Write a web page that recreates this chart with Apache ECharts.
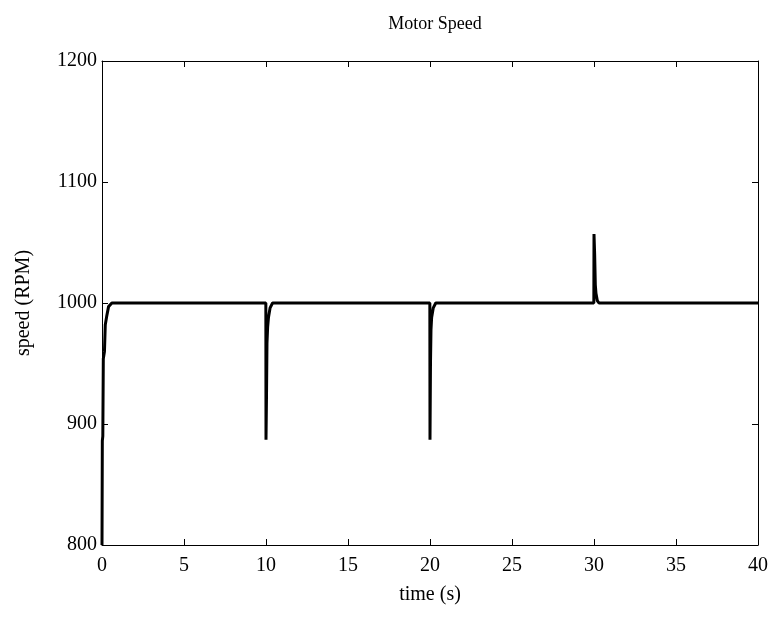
<!DOCTYPE html>
<html><head><meta charset="utf-8">
<script src="https://cdn.jsdelivr.net/npm/echarts@6/dist/echarts.min.js"></script>
<style>html,body{margin:0;padding:0;background:#fff}#c{width:773px;height:618px}</style>
</head><body><div id="c"></div>
<script>
var title = 'Motor Speed';
var xName = 'time (s)';
var yName = 'speed (RPM)';
var xTicks = [0, 5, 10, 15, 20, 25, 30, 35, 40];
var yTicks = [800, 900, 1000, 1100, 1200];
var time  = [0, 0.02, 0.05, 0.08, 0.15, 0.2, 0.3, 0.4, 0.6,
             9.99, 10.0, 10.03, 10.06, 10.1, 10.15, 10.25, 10.4,
             19.99, 20.0, 20.03, 20.06, 20.1, 20.2, 20.35,
             29.99, 30.0, 30.04, 30.08, 30.12, 30.2, 30.3, 40];
var speed = [800, 886, 890, 954, 960, 982, 990, 997, 1000,
             1000, 887, 922, 967, 980, 988, 996, 1000,
             1000, 887, 950, 978, 988, 996, 1000,
             1000, 1057, 1040, 1015, 1008, 1002, 1000, 1000];

var data = time.map(function (t, i) { return [t, speed[i]]; });
var font = 'Liberation Serif';
var fs = 20;
var chart = echarts.init(document.getElementById('c'));
var axisCommon = {
  axisLine: { show: true, onZero: false, lineStyle: { color: '#000', width: 1 } },
  axisTick: { show: true, inside: true, length: 6, lineStyle: { color: '#000' } },
  splitLine: { show: false }
};
function plain(v) { return String(v); }
chart.setOption({
  animation: false,
  backgroundColor: '#fff',
  title: { text: title, left: 430, top: 10, textAlign: 'center',
    textStyle: { fontFamily: font, fontSize: 18, fontWeight: 'normal', color: '#000' } },
  grid: { left: 102, right: 15, top: 61, bottom: 73 },
  xAxis: [
    Object.assign({ type: 'value', min: xTicks[0], max: xTicks[xTicks.length - 1], interval: 5,
      position: 'bottom', name: xName, nameLocation: 'middle', nameGap: 40,
      nameTextStyle: { fontFamily: font, fontSize: fs, color: '#000' },
      axisLabel: { fontFamily: font, fontSize: fs, color: '#000', margin: 11, formatter: plain } }, axisCommon),
    Object.assign({ type: 'value', min: 0, max: 40, interval: 5, position: 'top',
      axisLabel: { show: false } }, axisCommon)
  ],
  yAxis: [
    Object.assign({ type: 'value', min: yTicks[0], max: yTicks[yTicks.length - 1], interval: 100,
      position: 'left', name: yName, nameLocation: 'middle', nameGap: 68,
      nameTextStyle: { fontFamily: font, fontSize: fs, color: '#000' },
      axisLabel: { fontFamily: font, fontSize: fs, color: '#000', margin: 5, formatter: plain } }, axisCommon),
    Object.assign({ type: 'value', min: 800, max: 1200, interval: 100, position: 'right',
      axisLabel: { show: false } }, axisCommon)
  ],
  series: [{
    type: 'line', data: data, showSymbol: false, symbol: 'none',
    lineStyle: { color: '#000', width: 3 }, xAxisIndex: 0, yAxisIndex: 0
  }]
});
</script></body></html>
